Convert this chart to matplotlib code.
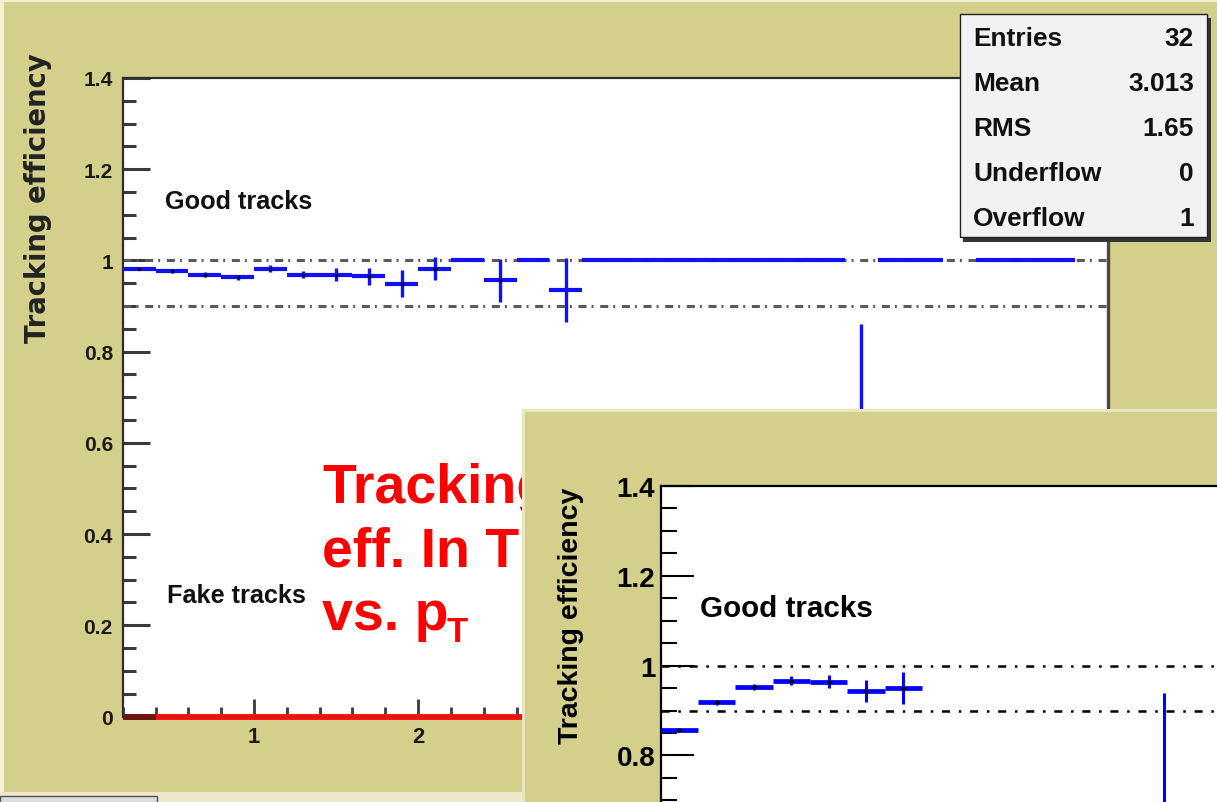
import numpy as np
import matplotlib
matplotlib.use('Agg')
import matplotlib.pyplot as plt
from matplotlib import font_manager
from matplotlib.patches import Rectangle
from matplotlib.transforms import Bbox
from matplotlib.ticker import MultipleLocator, FixedLocator, FuncFormatter

# efficiency histograms, 0.2 GeV/c wide bins starting at pT = 0.2
bin_lo = 0.2
bin_w = 0.2

good_eff = [0.982, 0.976, 0.969, 0.963, 0.982, 0.969, 0.969, 0.965, 0.949, 0.982,
            1.0, 0.956, 1.0, 0.936, 1.0, 1.0, 1.0, 1.0, 1.0, 1.0,
            1.0, 1.0, 0.50, 1.0, 1.0, np.nan, 1.0, 1.0, 1.0, np.nan]
good_err = [0.004, 0.004, 0.005, 0.006, 0.008, 0.008, 0.015, 0.019, 0.029, 0.025,
            0.0, 0.048, 0.0, 0.070, 0.0, 0.0, 0.0, 0.0, 0.0, 0.0,
            0.0, 0.0, 0.36, 0.0, 0.0, np.nan, 0.0, 0.0, 0.0, np.nan]
fake_eff = [0.0] * 30

zoom_eff = [0.857, 0.918, 0.953, 0.966, 0.964, 0.944, 0.950] + [np.nan] * 6 + [0.50] + [np.nan] * 16
zoom_err = [0.003, 0.005, 0.007, 0.010, 0.015, 0.024, 0.035] + [np.nan] * 6 + [0.438] + [np.nan] * 16

stat_names = ['Entries', 'Mean', 'RMS', 'Underflow', 'Overflow']
stat_values = ['32', '3.013', '1.65', '0', '1']

y_ticks = [0, 0.2, 0.4, 0.6, 0.8, 1.0, 1.2, 1.4]
x_ticks = [1, 2, 3, 4, 5, 6]
ref_lines = [1.0, 0.9]

W, H = 1217, 803
khaki = '#d4cf8b'
cream = '#f5eed8'

plt.rcParams['lines.scale_dashes'] = False
names = {f.name for f in font_manager.fontManager.ttflist}
have_narrow = 'Liberation Sans Narrow' in names
narrow = 'Liberation Sans Narrow' if have_narrow else 'Liberation Sans'
shrink = 1.0 if have_narrow else 0.84
arial = 'Liberation Sans'


def fx(px):
    return px / W


def fy(py):
    return 1 - py / H


def draw_hist(ax, vals, errs, color, hw, vw, dot):
    vals = np.asarray(vals, float)
    errs = np.asarray(errs, float)
    lo = bin_lo + bin_w * np.arange(len(vals))
    ok = ~np.isnan(vals)
    ax.hlines(vals[ok], lo[ok], lo[ok] + bin_w, colors=color, lw=hw,
              capstyle='butt', zorder=3)
    c = lo + bin_w / 2
    e = ok & (np.nan_to_num(errs) > 0)
    ax.vlines(c[e], vals[e] - errs[e], vals[e] + errs[e], colors=color, lw=vw,
              capstyle='butt', zorder=3)
    if dot:
        small = e & (errs < 0.05)
        ax.plot(c[small], vals[small], 'o', ms=dot, color='k', mew=0, zorder=4)


fig = plt.figure(figsize=(W / 100, H / 100), dpi=100)
fig.patch.set_facecolor(khaki)

# canvas edges
fig.add_artist(Rectangle((0, fy(3)), 1, 3 / H, transform=fig.transFigure,
                         fc=cream, ec='none', zorder=0.2))
fig.add_artist(Rectangle((0, 0), fx(4), 1, transform=fig.transFigure,
                         fc=cream, ec='none', zorder=0.2))
fig.add_artist(Rectangle((0, 0), fx(522), 10 / H, transform=fig.transFigure,
                         fc='#efe7cc', ec='none', zorder=0.2))
fig.add_artist(Rectangle((0, -0.01), fx(157), 6 / H + 0.01, transform=fig.transFigure,
                         fc='#dcdcdc', ec='#555555', lw=1, zorder=0.3))

# ---- main pad: good and fake track efficiency ----
ax1 = fig.add_axes([fx(122.7), fy(717.5), (1107.5 - 122.7) / W, (717.5 - 79) / H])
ax1.set_zorder(0.5)
ax1.set_xlim(0.2, 6.2)
ax1.set_ylim(0, 1.4)
for v in ref_lines:
    ax1.axhline(v, color='#5a5a5a', lw=2.2, dashes=(5.8, 3.6, 1.4, 4.8), zorder=2)
draw_hist(ax1, good_eff, good_err, '#1010ff', 3.0, 2.4, 2.5)
fk = np.asarray(fake_eff)
lo = bin_lo + bin_w * np.arange(len(fk))
ax1.hlines(fk, lo, lo + bin_w, colors='#f01010', lw=4.2, capstyle='butt',
           clip_on=False, zorder=4)
ax1.hlines(fk[:1], lo[:1], lo[:1] + bin_w, colors='#6a1414', lw=4.2,
           capstyle='butt', clip_on=False, zorder=5)

ax1.yaxis.set_major_locator(FixedLocator(y_ticks))
ax1.yaxis.set_minor_locator(MultipleLocator(0.05))
ax1.xaxis.set_major_locator(FixedLocator(x_ticks))
ax1.xaxis.set_minor_locator(MultipleLocator(0.2))
fmt = FuncFormatter(lambda v, _: f'{v:g}')
ax1.yaxis.set_major_formatter(fmt)
ax1.xaxis.set_major_formatter(fmt)
ax1.tick_params(axis='y', which='major', direction='in', length=19.4, width=2.2,
                color='#3a3a3a', pad=7)
ax1.tick_params(axis='y', which='minor', direction='in', length=9.4, width=2.2,
                color='#3a3a3a')
ax1.tick_params(axis='x', which='major', direction='in', length=13, width=2.0,
                color='#3a3a3a', pad=6.5)
ax1.tick_params(axis='x', which='minor', direction='in', length=7, width=2.0,
                color='#3a3a3a')
for lab in ax1.get_xticklabels() + ax1.get_yticklabels():
    lab.set_fontfamily(narrow)
    lab.set_fontweight('bold')
    lab.set_fontsize(18 * shrink if lab in ax1.get_yticklabels() else 19 * shrink)
    lab.set_color('#1a1a1a')
ax1.spines['top'].set_color('#2e2e2e')
ax1.spines['top'].set_linewidth(1.6)
ax1.spines['left'].set_color('#2e2e2e')
ax1.spines['left'].set_linewidth(1.6)
ax1.spines['right'].set_color('#4a4a4a')
ax1.spines['right'].set_linewidth(2.4)
ax1.spines['bottom'].set_color('#2e2e2e')

fig.text(fx(38), fy(53), 'Tracking efficiency', rotation=90, ha='center', va='top',
         family='DejaVu Sans', fontweight='bold', fontsize=19.8, color='#222222', zorder=1)
fig.text(fx(165), fy(209), 'Good tracks', family=narrow, fontweight='bold',
         fontsize=21.6 * shrink, color='#111111', va='baseline', zorder=1)
fig.text(fx(167), fy(603), 'Fake tracks', family=narrow, fontweight='bold',
         fontsize=21.6 * shrink, color='#111111', va='baseline', zorder=1)

# statistics box
fig.add_artist(Rectangle((fx(963), fy(243)), (1211 - 963) / W, (243 - 19) / H,
                         transform=fig.transFigure, fc='#333333', ec='none', zorder=1.3))
fig.add_artist(Rectangle((fx(960), fy(238)), (1207 - 960) / W, (238 - 15) / H,
                         transform=fig.transFigure, fc='#f2f2f2', ec='#222222',
                         lw=1, zorder=1.31))
for i, (n, v) in enumerate(zip(stat_names, stat_values)):
    base = 46 + 45 * i
    fig.text(fx(973), fy(base), n, family=narrow, fontweight='bold', fontsize=22.5 * shrink,
             color='#111111', va='baseline', ha='left', zorder=1.4)
    fig.text(fx(1194), fy(base), v, family=narrow, fontweight='bold', fontsize=22.5 * shrink,
             color='#111111', va='baseline', ha='right', zorder=1.4)

# slide caption, partly covered by the second pad
cap_clip = Bbox.from_extents(0, 0, 522, H)
red_lines = ['Tracking', 'eff. In TPC', 'vs. p']
for i, s in enumerate(red_lines):
    t = fig.text(fx(322), fy(503 + 63.5 * i), s, family=arial, fontweight='bold',
                 fontsize=40, color='#ff0000', va='baseline', zorder=1.2)
    t.set_clip_box(cap_clip)
    t.set_clip_on(True)
fig.text(fx(447), fy(642), 'T', family=arial, fontweight='bold', fontsize=25,
         color='#ff0000', va='baseline', zorder=1.2)

# ---- second pad: zoom on the low-pT region ----
fig.add_artist(Rectangle((fx(522), 0), 1 - fx(522), (803 - 410) / H,
                         transform=fig.transFigure, fc=khaki, ec='none', zorder=2))
fig.add_artist(Rectangle((fx(522), fy(413)), 1 - fx(522), 3 / H,
                         transform=fig.transFigure, fc='#ebe5bd', ec='none', zorder=2.1))
fig.add_artist(Rectangle((fx(522), 0), 3 / W, (803 - 410) / H,
                         transform=fig.transFigure, fc='#ebe5bd', ec='none', zorder=2.1))

px_per_unit = 449.0
ax2_h = 1.4 * px_per_unit
ax2 = fig.add_axes([fx(660.7), fy(487 + ax2_h), 30 * 37.3 / W, ax2_h / H])
ax2.set_zorder(3)
ax2.set_xlim(0.2, 6.2)
ax2.set_ylim(0, 1.4)
for v in ref_lines:
    ax2.axhline(v, color='black', lw=1.8, dashes=(5.8, 6.3, 1.8, 6.3), zorder=2)
draw_hist(ax2, zoom_eff, zoom_err, '#0000ff', 3.4, 2.2, 3.0)
# only the labels that fall inside the visible part of the pad
ax2.yaxis.set_major_locator(FixedLocator([t for t in y_ticks if t >= 0.8]))
ax2.yaxis.set_minor_locator(MultipleLocator(0.05))
ax2.yaxis.set_major_formatter(fmt)
ax2.set_xticks([])
ax2.tick_params(axis='y', which='major', direction='in', length=23.8, width=1.5,
                color='black', pad=4)
ax2.tick_params(axis='y', which='minor', direction='in', length=11.5, width=1.5,
                color='black')
for lab in ax2.get_yticklabels():
    lab.set_fontfamily(arial)
    lab.set_fontweight('bold')
    lab.set_fontsize(20)
for s in ['top', 'left', 'right', 'bottom']:
    ax2.spines[s].set_color('black')
    ax2.spines[s].set_linewidth(1.6)

fig.text(fx(571), fy(488), 'Tracking efficiency', rotation=90, ha='center', va='top',
         family=arial, fontweight='bold', fontsize=20.5, color='black', zorder=4)
fig.text(fx(700), fy(617), 'Good tracks', family=arial, fontweight='bold',
         fontsize=21.3, color='black', va='baseline', zorder=4)

fig.savefig('out.png', dpi=100, facecolor=fig.get_facecolor())
